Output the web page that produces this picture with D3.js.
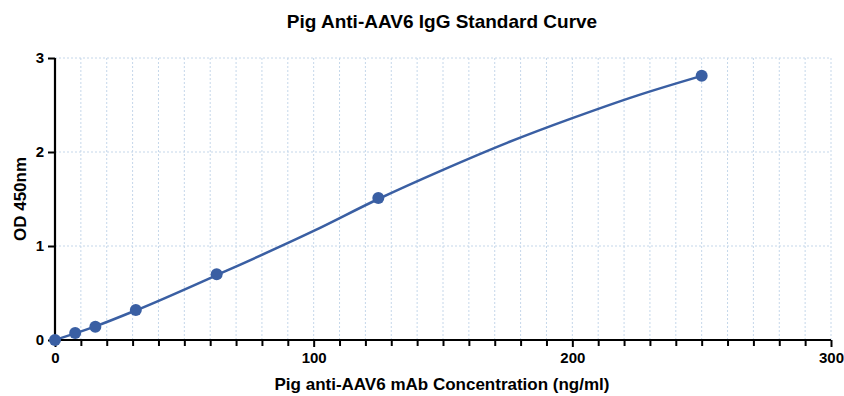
<!DOCTYPE html>
<html>
<head>
<meta charset="utf-8">
<script src="https://cdn.jsdelivr.net/npm/d3@7"></script>
<style>
  body { margin: 0; background: #fff; }
  text { font-family: "Liberation Sans", Arial, sans-serif; font-weight: bold; }
</style>
</head>
<body>
<svg id="chart" width="844" height="396"></svg>
<script>
// standard concentrations (ng/ml) and measured OD
var conc = [0, 7.8, 15.6, 31.25, 62.5, 125, 250];
var od = [0, 0.074, 0.14, 0.32, 0.70, 1.51, 2.81];
// fitted curve
var fitConc = [0, 7.8, 15.6, 31.25, 62.5, 100, 125, 150, 175, 200, 225, 250];
var fitOd = [0, 0.07, 0.145, 0.315, 0.69, 1.16, 1.50, 1.81, 2.10, 2.36, 2.60, 2.81];
var xTicks = [0, 100, 200, 300];
var yTicks = [0, 1, 2, 3];

var margin = { left: 55, right: 13, top: 58, bottom: 56 };
var width = 844, height = 396;
var blue = "#3a5fa3";

var svg = d3.select("#chart");

var x = d3.scaleLinear().domain([0, 300]).range([margin.left, width - margin.right]);
var y = d3.scaleLinear().domain([0, 3]).range([height - margin.bottom, margin.top]);

// grid
var grid = svg.append("g").attr("class", "grid");
grid.selectAll("line.v")
    .data(d3.range(10, 301, 10))
    .enter().append("line")
    .attr("x1", function(d) { return x(d); })
    .attr("x2", function(d) { return x(d); })
    .attr("y1", y(0))
    .attr("y2", y(3))
    .style("stroke", "#c5d7ea")
    .style("stroke-width", 1)
    .style("stroke-dasharray", "2,2");
grid.selectAll("line.h")
    .data([1, 2, 3])
    .enter().append("line")
    .attr("x1", x(0))
    .attr("x2", x(300))
    .attr("y1", function(d) { return y(d); })
    .attr("y2", function(d) { return y(d); })
    .style("stroke", "#c5d7ea")
    .style("stroke-width", 1)
    .style("stroke-dasharray", "2,2");

// axes
var xAxis = svg.append("g")
    .attr("transform", "translate(0," + y(0) + ")")
    .call(d3.axisBottom(x).tickValues(xTicks).tickSize(7).tickPadding(5).tickFormat(d3.format("d")));
var xMinor = svg.append("g")
    .attr("transform", "translate(0," + y(0) + ")")
    .call(d3.axisBottom(x).tickValues(d3.range(10, 300, 10).filter(function(d) { return d % 100 !== 0; })).tickSize(6).tickFormat(""));
xMinor.select(".domain").remove();

var yAxis = svg.append("g")
    .attr("transform", "translate(" + x(0) + ",0)")
    .call(d3.axisLeft(y).tickValues(yTicks).tickSize(7).tickPadding(4).tickFormat(d3.format("d")));

svg.selectAll(".domain").style("stroke", "#000").style("stroke-width", 2.2);
svg.selectAll(".tick line").style("stroke", "#000").style("stroke-width", 2);
svg.selectAll(".tick text").style("font-size", "15px").style("fill", "#000")
    .style("font-family", "'Liberation Sans', Arial, sans-serif").style("font-weight", "bold");
xAxis.selectAll(".domain").attr("d", "M" + x(0) + ",0H" + x(300));
yAxis.selectAll(".domain").attr("d", "M0," + y(0) + "V" + y(3));

// fitted curve
var fit = fitConc.map(function(c, i) { return [c, fitOd[i]]; });
var line = d3.line()
    .x(function(d) { return x(d[0]); })
    .y(function(d) { return y(d[1]); })
    .curve(d3.curveMonotoneX);
svg.append("path")
    .datum(fit)
    .attr("d", line)
    .style("fill", "none")
    .style("stroke", blue)
    .style("stroke-width", 2.5);

// standards
var pts = conc.map(function(c, i) { return [c, od[i]]; });
svg.append("g").selectAll("circle")
    .data(pts)
    .enter().append("circle")
    .attr("cx", function(d) { return x(d[0]); })
    .attr("cy", function(d) { return y(d[1]); })
    .attr("r", 6)
    .style("fill", blue);

// labels
svg.append("text")
    .attr("x", 442).attr("y", 28)
    .attr("text-anchor", "middle")
    .style("font-size", "19px")
    .text("Pig Anti-AAV6 IgG Standard Curve");

svg.append("text")
    .attr("x", 442).attr("y", 390)
    .attr("text-anchor", "middle")
    .style("font-size", "17px")
    .text("Pig anti-AAV6 mAb Concentration (ng/ml)");

svg.append("text")
    .attr("transform", "translate(26," + y(1.5) + ") rotate(-90)")
    .attr("text-anchor", "middle")
    .style("font-size", "17px")
    .text("OD 450nm");
</script>
</body>
</html>
